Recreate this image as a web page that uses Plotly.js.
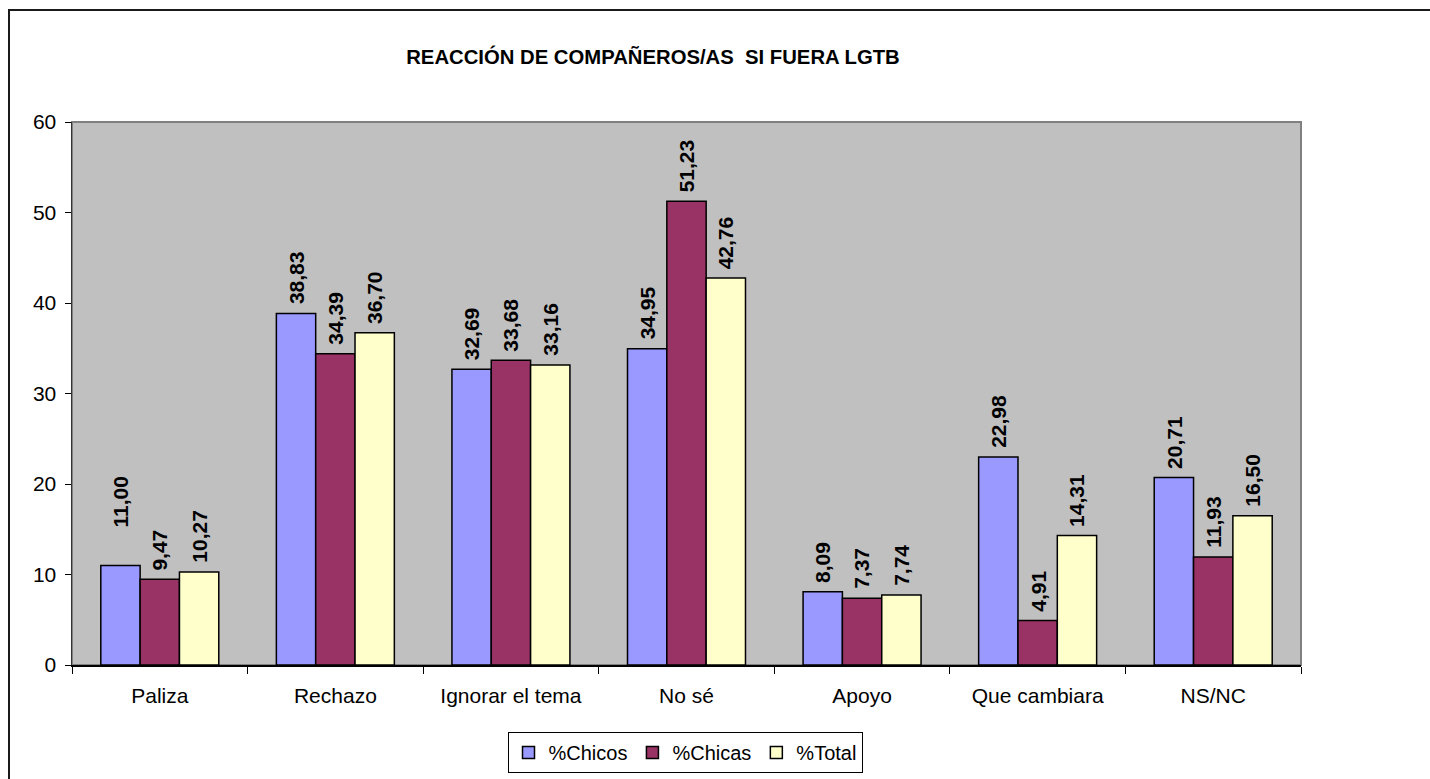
<!DOCTYPE html>
<html>
<head>
<meta charset="utf-8">
<script src="https://cdn.plot.ly/plotly-3.0.1.min.js"></script>
<style>
  html, body { margin: 0; padding: 0; background: #fff; overflow: hidden; }
  #frame { position: absolute; left: 8px; top: 9px; width: 3000px; height: 3000px;
           border-left: 2px solid #1a1a1a; border-top: 2px solid #1a1a1a; pointer-events: none; }
  #chart { position: absolute; left: 0; top: 0; width: 1430px; height: 779px; }
</style>
</head>
<body>
<div id="chart"></div>
<div id="frame"></div>
<script>
const categories = ["Paliza", "Rechazo", "Ignorar el tema", "No sé", "Apoyo", "Que cambiara", "NS/NC"];
const chicos = [11.00, 38.83, 32.69, 34.95, 8.09, 22.98, 20.71];
const chicas = [9.47, 34.39, 33.68, 51.23, 7.37, 4.91, 11.93];
const total  = [10.27, 36.70, 33.16, 42.76, 7.74, 14.31, 16.50];
const seriesNames = ["%Chicos", "%Chicas", "%Total"];
const yTicks = [0, 10, 20, 30, 40, 50, 60];

const colors = ["#9999FF", "#993366", "#FFFFCC"];
const series = [chicos, chicas, total];
const FONT = "Liberation Sans, Arial, sans-serif";
const bargap = 0.328;
const barW = (1 - bargap) / 3;

const traces = series.map((vals, i) => ({
  type: "bar",
  name: seriesNames[i],
  x: categories,
  y: vals,
  marker: { color: colors[i], line: { color: "#000", width: 1.5 } },
  hoverinfo: "x+y+name"
}));

const fmt = v => v.toFixed(2).replace(".", ",");
const annotations = [];
series.forEach((vals, i) => {
  vals.forEach((v, j) => {
    // the first Paliza label sits noticeably higher in the reference
    const extra = (i === 0 && j === 0) ? 29 : 0;
    annotations.push({
      xref: "x", yref: "y",
      x: j + (i - 1) * barW, y: v,
      text: fmt(v),
      textangle: -90,
      showarrow: false,
      xanchor: "center", yanchor: "bottom",
      yshift: 7 + extra,
      font: { family: FONT, size: 21, color: "#000", weight: "bold" }
    });
  });
});

const L = 72, R = 1301, T = 122, B = 665;
const layout = {
  width: 1430, height: 779,
  margin: { l: L, r: 1430 - R, t: T, b: 779 - B, pad: 0, autoexpand: false },
  paper_bgcolor: "rgba(0,0,0,0)",
  plot_bgcolor: "#C0C0C0",
  barmode: "group",
  bargap: bargap,
  bargroupgap: 0,
  font: { family: FONT, size: 21, color: "#000" },
  title: {
    text: "<b>REACCIÓN DE COMPAÑEROS/AS \u00a0SI FUERA LGTB</b>",
    font: { family: FONT, size: 20.3, color: "#000" },
    xref: "paper", yref: "container",
    x: (653 - L) / (R - L), xanchor: "center",
    y: 1 - 57 / 779, yanchor: "middle"
  },
  xaxis: {
    type: "category",
    tickson: "boundaries",
    ticks: "outside", ticklen: 7, tickcolor: "#000", tickwidth: 1,
    showline: true, linecolor: "#000", linewidth: 1.5,
    showgrid: false, zeroline: false,
    ticklabelstandoff: 11,
    tickfont: { family: FONT, size: 21, color: "#000" },
    automargin: false,
    fixedrange: true
  },
  yaxis: {
    range: [0, 60],
    tickvals: yTicks,
    ticktext: yTicks.map(String),
    ticks: "outside", ticklen: 6, tickcolor: "#000", tickwidth: 1,
    showline: true, linecolor: "#333", linewidth: 1.5,
    showgrid: false, zeroline: false,
    ticklabelstandoff: 4,
    tickfont: { family: FONT, size: 21, color: "#000" },
    automargin: false,
    fixedrange: true
  },
  shapes: [{
    type: "rect", xref: "paper", yref: "paper", x0: 0, x1: 1, y0: 0, y1: 1,
    line: { color: "#808080", width: 2 }, fillcolor: "rgba(0,0,0,0)", layer: "below"
  }],
  legend: {
    orientation: "h",
    x: (685 - L) / (R - L), xanchor: "center",
    y: (B - 732) / (B - T), yanchor: "top",
    bordercolor: "#000", borderwidth: 1, bgcolor: "#fff",
    font: { family: FONT, size: 20, color: "#000" },
    itemwidth: 30,
    tracegroupgap: 0,
    traceorder: "normal"
  },
  annotations: annotations,
  showlegend: true
};

Plotly.newPlot("chart", traces, layout, { displayModeBar: false, staticPlot: true });
</script>
</body>
</html>
